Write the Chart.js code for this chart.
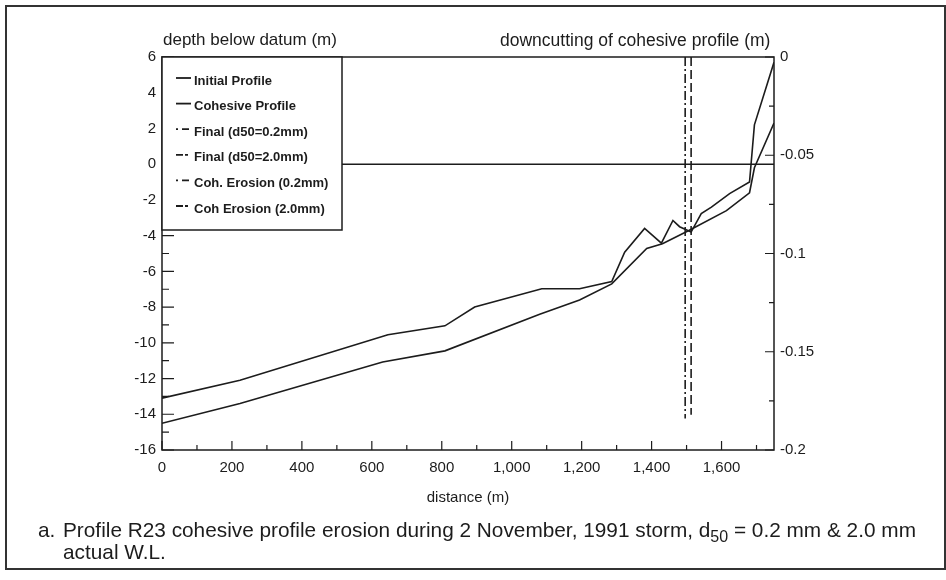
<!DOCTYPE html>
<html>
<head>
<meta charset="utf-8">
<script src="https://cdn.jsdelivr.net/npm/chart.js@4.4.1/dist/chart.umd.min.js"></script>
<style>
  body { margin: 0; background: #fff; }
  #page { position: relative; width: 946px; height: 580px; overflow: hidden; font-family: "Liberation Sans", Arial, sans-serif; color: #1c1c1c; }
  #frame { position: absolute; left: 5px; top: 5px; width: 941px; height: 565px; box-sizing: border-box; border: 2px solid #333; }
  #chart { position: absolute; left: 0; top: 0; }
  .axis-title { position: absolute; top: 30px; font-size: 17px; line-height: 20px; white-space: nowrap; }
  #caption { position: absolute; left: 38px; top: 519px; width: 900px; font-size: 20.8px; line-height: 22px; padding-left: 25px; text-indent: -25px; white-space: nowrap; }
  #caption .lbl { display: inline-block; width: 25px; text-indent: 0; }
  #caption sub { font-size: 16px; vertical-align: -5px; line-height: 0; }
</style>
</head>
<body>
<div id="page">
  <div id="frame"></div>
  <canvas id="chart" width="946" height="580"></canvas>
  <div class="axis-title" style="left:163px">depth below datum (m)</div>
  <div class="axis-title" style="left:500px; font-size:17.5px">downcutting of cohesive profile (m)</div>
  <div id="caption"><span class="lbl">a.</span>Profile R23 cohesive profile erosion during 2 November, 1991 storm, d<sub>50</sub> = 0.2 mm &amp; 2.0 mm<br>actual W.L.</div>
</div>
<script>
  // profile data (distance m, depth m)
  const initialX = [0, 223, 646, 809, 894, 1086, 1194, 1286, 1323, 1380, 1428, 1461, 1480, 1513, 1542, 1571, 1623, 1680, 1694, 1750];
  const initialY = [-13.1, -12.1, -9.55, -9.05, -8.0, -6.97, -6.97, -6.57, -4.93, -3.6, -4.42, -3.15, -3.5, -3.8, -2.77, -2.4, -1.65, -1.0, 2.2, 5.7];

  const cohesiveX = [0, 223, 631, 809, 1080, 1194, 1286, 1386, 1431, 1508, 1614, 1680, 1694, 1750];
  const cohesiveY = [-14.5, -13.4, -11.07, -10.45, -8.4, -7.6, -6.7, -4.72, -4.45, -3.7, -2.6, -1.6, -0.2, 2.3];

  const waterX = [0, 1750];
  const waterY = [0, 0];

  // downcutting (right axis, m)
  const erosion02X = [1496, 1496];
  const erosion02Y = [0, -0.184];
  const erosion20X = [1513, 1513];
  const erosion20Y = [0, -0.182];

  const distanceTicks = [0, 200, 400, 600, 800, 1000, 1200, 1400, 1600];
  const depthTicks = [-16, -14, -12, -10, -8, -6, -4, -2, 0, 2, 4, 6];
  const downcutTicks = [-0.2, -0.15, -0.1, -0.05, 0];

  const ink = "#1c1c1c";
  const fontFamily = '"Liberation Sans", Arial, sans-serif';

  function toPoints(xs, ys) {
    return xs.map((x, i) => ({ x: x, y: ys[i] }));
  }

  const frameTicks = {
    id: "frameTicks",
    afterDatasetsDraw(chart) {
      const { ctx, chartArea, scales } = chart;
      ctx.save();
      ctx.strokeStyle = ink;
      ctx.lineWidth = 1.5;
      ctx.strokeRect(chartArea.left, chartArea.top, chartArea.right - chartArea.left, chartArea.bottom - chartArea.top);
      ctx.lineWidth = 1.2;
      ctx.beginPath();
      for (let v = -16; v <= 6; v += 1) {
        const y = scales.y.getPixelForValue(v);
        ctx.moveTo(chartArea.left, y);
        ctx.lineTo(chartArea.left + (v % 2 === 0 ? 12 : 7), y);
      }
      for (let v = 0; v <= 1700; v += 100) {
        const x = scales.x.getPixelForValue(v);
        ctx.moveTo(x, chartArea.bottom);
        ctx.lineTo(x, chartArea.bottom - (v % 200 === 0 ? 9 : 5));
      }
      for (let k = 0; k <= 8; k++) {
        const y = scales.y2.getPixelForValue(-0.025 * k);
        ctx.moveTo(chartArea.right, y);
        ctx.lineTo(chartArea.right - (k % 2 === 0 ? 9 : 5), y);
      }
      ctx.stroke();
      ctx.restore();
    },
  };

  const boxLegend = {
    id: "boxLegend",
    afterDatasetsDraw(chart) {
      const { ctx, chartArea } = chart;
      const x0 = chartArea.left;
      const y0 = chartArea.top;
      ctx.save();
      ctx.fillStyle = "#fff";
      ctx.fillRect(x0, y0, 180, 173);
      ctx.strokeStyle = ink;
      ctx.lineWidth = 1.5;
      ctx.strokeRect(x0, y0, 180, 173);
      ctx.font = "bold 13px " + fontFamily;
      ctx.textBaseline = "middle";
      ctx.fillStyle = ink;
      ctx.lineWidth = 1.8;
      chart.data.datasets
        .filter((ds) => ds.label)
        .forEach((ds, i) => {
          const y = y0 + 24 + i * 25.6;
          ctx.setLineDash(ds.legendDash || ds.borderDash || []);
          ctx.beginPath();
          ctx.moveTo(x0 + 14, y - 3);
          ctx.lineTo(x0 + 29, y - 3);
          ctx.stroke();
          ctx.setLineDash([]);
          ctx.fillText(ds.label, x0 + 32, y);
        });
      ctx.restore();
    },
  };

  document.addEventListener("DOMContentLoaded", function () {
    const tickFont = { family: fontFamily, size: 15 };

    new Chart(document.getElementById("chart"), {
      type: "line",
      data: {
        datasets: [
          { label: "Initial Profile", data: toPoints(initialX, initialY), yAxisID: "y" },
          { label: "Cohesive Profile", data: toPoints(cohesiveX, cohesiveY), yAxisID: "y" },
          { label: "Final (d50=0.2mm)", data: [], yAxisID: "y", legendDash: [2, 4, 7, 3] },
          { label: "Final (d50=2.0mm)", data: [], yAxisID: "y", legendDash: [7, 2, 3, 3] },
          { label: "Coh. Erosion (0.2mm)", data: toPoints(erosion02X, erosion02Y), yAxisID: "y2", borderDash: [9, 3, 2, 3], legendDash: [2, 4, 7, 3] },
          { label: "Coh Erosion (2.0mm)", data: toPoints(erosion20X, erosion20Y), yAxisID: "y2", borderDash: [9, 4], legendDash: [7, 2, 3, 3] },
          { label: "", data: toPoints(waterX, waterY), yAxisID: "y" },
        ],
      },
      options: {
        responsive: false,
        animation: false,
        events: [],
        layout: { padding: { top: 57, bottom: 73, left: 0, right: 0 } },
        elements: {
          point: { radius: 0 },
          line: { tension: 0, borderColor: ink, borderWidth: 1.6, fill: false },
        },
        plugins: {
          legend: { display: false },
          tooltip: { enabled: false },
        },
        scales: {
          x: {
            type: "linear",
            min: 0,
            max: 1750,
            afterBuildTicks: (s) => { s.ticks = distanceTicks.map((v) => ({ value: v })); },
            ticks: { padding: 9, color: ink, font: tickFont },
            grid: { display: false, drawTicks: false },
            border: { display: false },
            title: { display: true, text: "distance (m)", color: ink, font: { family: fontFamily, size: 15 }, padding: { top: 0, bottom: 0 } },
            afterFit: (s) => { s.height = 57; },
          },
          y: {
            position: "left",
            min: -16,
            max: 6,
            afterBuildTicks: (s) => { s.ticks = depthTicks.map((v) => ({ value: v })); },
            ticks: { padding: 6, color: ink, font: tickFont },
            grid: { display: false, drawTicks: false },
            border: { display: false },
            afterFit: (s) => { s.width = 162; },
          },
          y2: {
            position: "right",
            min: -0.2,
            max: 0,
            afterBuildTicks: (s) => { s.ticks = downcutTicks.map((v) => ({ value: v })); },
            ticks: {
              padding: 6,
              color: ink,
              font: tickFont,
              callback: (v) => String(Number(v.toFixed(2))),
            },
            grid: { display: false, drawTicks: false },
            border: { display: false },
            afterFit: (s) => { s.width = 172; },
          },
        },
      },
      plugins: [frameTicks, boxLegend],
    });
  });
</script>
</body>
</html>
